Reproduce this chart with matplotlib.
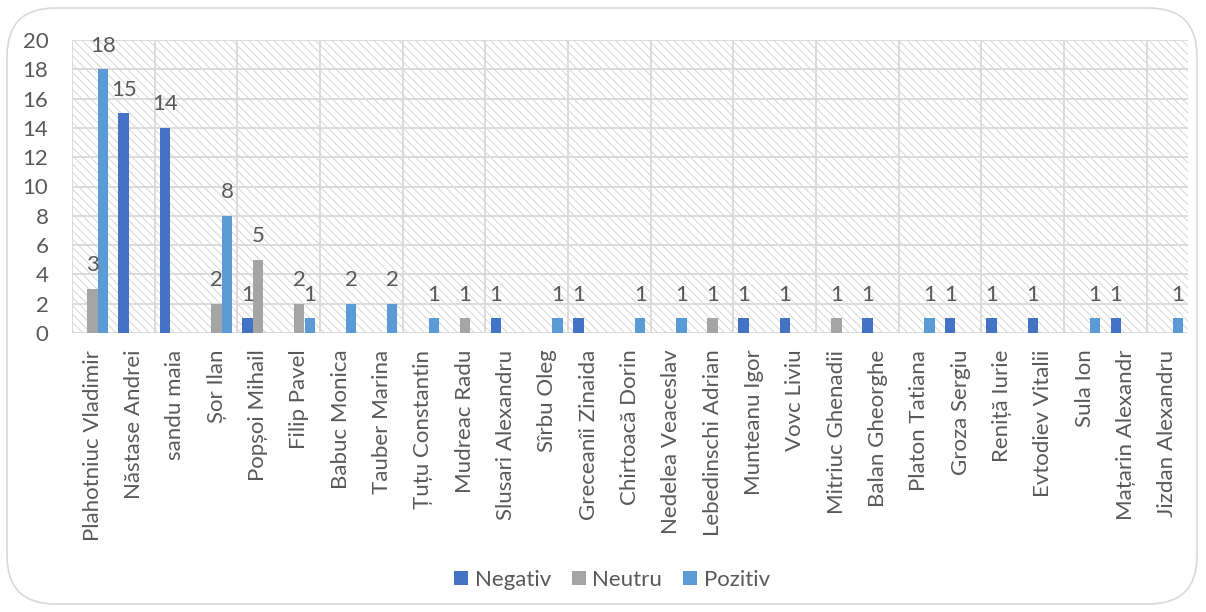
import matplotlib
matplotlib.use("Agg")
import matplotlib.pyplot as plt
import numpy as np
from matplotlib.patches import Rectangle, FancyBboxPatch

plt.rcParams['font.family'] = ['Lato', 'DejaVu Sans']
plt.rcParams['hatch.linewidth'] = 0.6

categories = ["Plahotniuc Vladimir", "Năstase Andrei", "sandu maia", "Șor Ilan", "Popșoi Mihail",
              "Filip Pavel", "Babuc Monica", "Tauber Marina", "Țuțu Constantin", "Mudreac Radu",
              "Slusari Alexandru", "Sîrbu Oleg", "Greceanîi Zinaida", "Chirtoacă Dorin",
              "Nedelea Veaceslav", "Lebedinschi Adrian", "Munteanu Igor", "Vovc Liviu",
              "Mitriuc Ghenadii", "Balan Gheorghe", "Platon Tatiana", "Groza Sergiu",
              "Reniță Iurie", "Evtodiev Vitalii", "Sula Ion", "Mațarin Alexandr", "Jizdan Alexandru"]
negativ = [0, 15, 14, 0, 1, 0, 0, 0, 0, 0, 1, 0, 1, 0, 0, 0, 1, 1, 0, 1, 0, 1, 1, 1, 0, 1, 0]
neutru  = [3, 0, 0, 2, 5, 2, 0, 0, 0, 1, 0, 0, 0, 0, 0, 1, 0, 0, 1, 0, 0, 0, 0, 0, 0, 0, 0]
pozitiv = [18, 0, 0, 8, 0, 1, 2, 2, 1, 0, 0, 1, 0, 1, 1, 0, 0, 0, 0, 0, 1, 0, 0, 0, 1, 0, 1]
series_names = ["Negativ", "Neutru", "Pozitiv"]
colors = ["#4472C4", "#A5A5A5", "#5B9BD5"]
yticks = list(range(0, 21, 2))

W, H = 1206, 612
FS = 16
fig = plt.figure(figsize=(W / 100, H / 100), dpi=100)
fig.patch.set_facecolor("white")

# rounded chart border
border = FancyBboxPatch((7 / W, 8 / H), 1190 / W, 596 / H,
                        boxstyle="round,pad=0,rounding_size=0.04",
                        transform=fig.transFigure, facecolor="none",
                        edgecolor="#D9D9D9", linewidth=1.2, mutation_aspect=W / H)
fig.patches.append(border)

ax = fig.add_axes([72 / W, 1 - 333 / H, (1188 - 72) / W, (333 - 40) / H])
ax.patch.set_facecolor("white")
bg = Rectangle((0, 0), 1, 1, transform=ax.transAxes, facecolor="white",
               edgecolor="#CFCFCF", linewidth=0, hatch="\\\\\\\\", zorder=0)
ax.add_patch(bg)

n = len(categories)
x = np.arange(n)
bw = 0.25
text_color = "#595959"
for i, (vals, c) in enumerate(zip([negativ, neutru, pozitiv], colors)):
    pos = x + (i - 1) * bw
    ax.bar(pos, vals, width=bw, color=c, zorder=3, label=series_names[i])
    for p, v in zip(pos, vals):
        if v > 0:
            ax.text(p, v + 1.2, str(v), ha="center", va="baseline", fontsize=FS,
                    color=text_color, zorder=4)

ax.set_xlim(-0.5, n - 0.5)
ax.set_ylim(0, 20)
ax.set_yticks(yticks)
ax.set_yticklabels([str(t) for t in yticks], fontsize=FS, color=text_color)
ax.set_xticks(x)
ax.set_xticklabels(categories, rotation=90, fontsize=FS, color=text_color)
ax.tick_params(axis="both", length=0)
ax.tick_params(axis="x", pad=12)
ax.tick_params(axis="y", pad=17)

for yv in yticks:
    ax.axhline(yv, color="#D9D9D9", linewidth=1.3, zorder=1)
for xv in np.arange(-0.5, n - 1, 2):
    ax.axvline(xv, color="#D9D9D9", linewidth=1.3, zorder=1)

for s in ax.spines.values():
    s.set_visible(False)

handles, labels = ax.get_legend_handles_labels()
fig.legend(handles, labels, loc="center", bbox_to_anchor=(612 / W, 1 - 580 / H), ncol=3,
           frameon=False, fontsize=FS, handlelength=0.62, handleheight=0.62,
           handletextpad=0.3, columnspacing=0.95, labelcolor=text_color)

fig.savefig("out.png", dpi=100)
